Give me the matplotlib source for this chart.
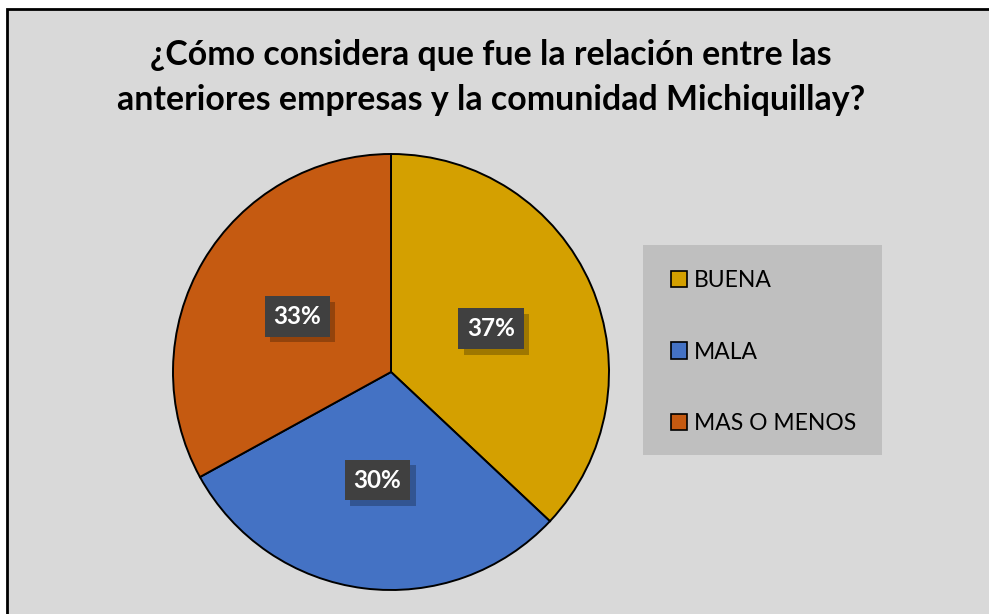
import matplotlib
matplotlib.use("Agg")
import matplotlib.pyplot as plt
from matplotlib.patches import Rectangle
import matplotlib.patheffects as pe

categories = ["BUENA", "MALA", "MAS O MENOS"]
values = [37, 30, 33]
colors = ["#D4A000", "#4472C4", "#C55A11"]
title_lines = ["¿Cómo considera que fue la relación entre las",
               "anteriores empresas y la comunidad Michiquillay?"]

W, H = 989, 614
fig = plt.figure(figsize=(W / 100, H / 100), dpi=100, facecolor="white")

def fx(px):
    return px / W

def fy(py):
    return (H - py) / H

# chart area background with border
fig.patches.append(Rectangle((fx(7), fy(700)), 1.2, fy(9) - fy(700),
                             transform=fig.transFigure, facecolor="#D9D9D9",
                             edgecolor="black", linewidth=2, zorder=-3))
# legend background
fig.patches.append(Rectangle((fx(643), fy(455)), fx(882) - fx(643), fy(245) - fy(455),
                             transform=fig.transFigure, facecolor="#BFBFBF",
                             edgecolor="none", zorder=-2))

font = "Lato"
for line, by in zip(title_lines, [65, 110]):
    fig.text(fx(491), fy(by), line, ha="center", va="baseline",
             fontsize=24.4, fontweight="bold", family=font, color="black")

cx, cy, r = 391, 372, 218
ax = fig.add_axes([fx(cx - r), fy(cy + r), fx(2 * r), (2 * r) / H])
ax.set_zorder(2)
ax.patch.set_visible(False)
ax.axis("off")

wedges, texts, autotexts = ax.pie(
    values, colors=colors, startangle=90, counterclock=False, radius=1,
    autopct=lambda p: f"{p:.0f}%", pctdistance=0.5,
    wedgeprops=dict(edgecolor="black", linewidth=1.4),
    textprops=dict(color="white", fontsize=17.5, fontweight="bold", family=font))
ax.set_xlim(-1, 1)
ax.set_ylim(-1, 1)
ax.set_aspect("auto")

for t in autotexts:
    t.set_bbox(dict(boxstyle="square,pad=0.36", facecolor="#404040", edgecolor="none"))
    t.get_bbox_patch().set_path_effects(
        [pe.SimplePatchShadow(offset=(4, -4), shadow_rgbFace="black", alpha=0.25), pe.Normal()])

leg = fig.legend(wedges, categories, loc="center left",
                 bbox_to_anchor=(fx(671), fy(352)), frameon=False,
                 prop=dict(family=font, size=16.5), borderpad=0, borderaxespad=0,
                 handlelength=0.7, handleheight=0.7, handletextpad=0.3,
                 labelspacing=2.2)
leg.set_zorder(5)
for h in leg.legend_handles:
    h.set_edgecolor("black")
    h.set_linewidth(1.2)

fig.savefig("out.png", dpi=100, facecolor="white")
